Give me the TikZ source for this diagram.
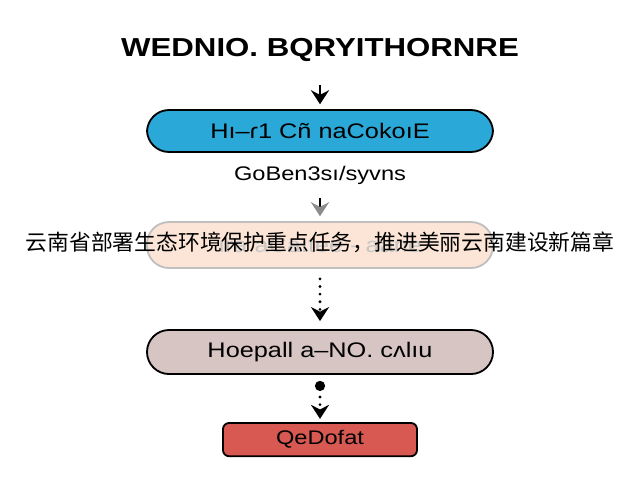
\documentclass[tikz,border=0pt]{standalone}
\usepackage{fontspec}
\setmainfont{Liberation Sans}
\newfontfamily\widesans[FakeStretch=1.2]{Liberation Sans}
\newfontfamily\cjk{Noto Sans CJK SC}
\usetikzlibrary{arrows.meta}

\definecolor{skyblue}{RGB}{42,168,215}
\definecolor{peach}{RGB}{252,229,214}
\definecolor{mauve}{RGB}{215,197,195}
\definecolor{brick}{RGB}{216,88,82}

\tikzstyle{arrow} = [line width=1.6pt,->,>={Stealth[length=3.5mm,width=4.5mm]}]
\tikzstyle{dotarrow} = [arrow, dash pattern=on 0pt off 1.9mm, line cap=round, line width=2.2pt]
\tikzstyle{label} = [font=\fontsize{15}{18}\selectfont\widesans]
\tikzstyle{pill} = [label, draw, line width=1.3pt, rounded corners=0.55cm, minimum width=8.65cm, minimum height=1.1cm]

\begin{document}
\begin{tikzpicture}[node distance=2cm]
\useasboundingbox (0,0) rectangle (16,-12);
\node (title) at (8,-1.25) {\fontsize{18.5}{22}\selectfont\widesans\bfseries WEDNIO. BQRYITHORNRE};
\node (detect) [pill, fill=skyblue, minimum height=1.05cm, below of=title, yshift=-0.025cm] {Hı–ɾ1 Cñ naCokoıE};
\node (caption) [label, below of=detect, yshift=0.9cm, font=\fontsize{14}{17}\selectfont\widesans] {GoBen3sı/syvns};
\node (notice) [pill, fill=peach, draw=black!25, minimum height=1.15cm, below of=caption, yshift=0.25cm, text=black!22] {ıra aCaıtee - aane};
\node (headline) at (notice) [yshift=0.075cm, font=\fontsize{15.5}{18}\selectfont\cjk] {云南省部署生态环境保护重点任务，推进美丽云南建设新篇章};
\node (review) [pill, fill=mauve, below of=notice, yshift=-0.675cm] {Hoepall a–NO. cʌlıu};
\node (result) [label, draw, line width=1.3pt, rounded corners=0.15cm, fill=brick, minimum width=4.85cm, minimum height=0.83cm, below of=review, yshift=-0.19cm, font=\fontsize{14}{17}\selectfont\widesans] {QeDofat};

\draw [arrow, -{Stealth[length=3.5mm,width=4.5mm,color=black!45]}, shorten <=0.22cm, shorten >=0.12cm] (caption) -- (notice);
\draw [arrow, shorten <=0.45cm, shorten >=0.12cm] (title) -- (detect);
\draw [dotarrow, shorten <=0.25cm, shorten >=0.2cm] (notice) -- (review);
\draw [dotarrow, {Circle[length=2.5mm]}->, shorten <=0.15cm, shorten >=0.08cm] (review) -- (result);

\end{tikzpicture}
\end{document}
